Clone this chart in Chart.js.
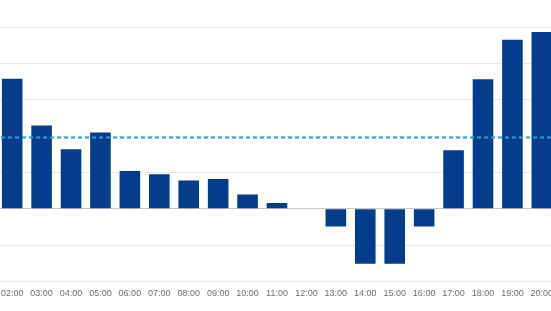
<!DOCTYPE html>
<html lang="en">
  <head>
    <meta charset="UTF-8" />
    <script src="https://cdn.jsdelivr.net/npm/chart.js"></script>
    <title>Hourly balance</title>
    <style>
      * {
        padding: 0;
        margin: 0;
        box-sizing: border-box;
      }
      body {
        width: 551px;
        height: 311px;
        overflow: hidden;
        background: #fff;
        position: relative;
      }
      .wrap {
        position: absolute;
        left: -6px;
        top: 0;
        width: 566px;
        height: 311px;
      }
    </style>
  </head>
  <body>
    <div class="wrap">
      <canvas id="myChart"></canvas>
    </div>
    <script>
      const hours = [
        '02:00', '03:00', '04:00', '05:00', '06:00', '07:00', '08:00', '09:00', '10:00', '11:00',
        '12:00', '13:00', '14:00', '15:00', '16:00', '17:00', '18:00', '19:00', '20:00',
      ];
      const values = [35.8, 22.9, 16.4, 21.0, 10.4, 9.5, 7.8, 8.2, 3.9, 1.6, 0, -4.9, -15.1, -15.1, -4.9, 16.1, 35.6, 46.5, 48.6];
      const average = 19.6;

      // dashed average line across the whole plot
      const avgLine = {
        id: 'avgLine',
        afterDatasetsDraw(chart) {
          const { ctx, chartArea, scales } = chart;
          const y = scales.y.getPixelForValue(average);
          ctx.save();
          ctx.strokeStyle = '#2a9fd8';
          ctx.lineWidth = 2;
          ctx.setLineDash([4, 3]);
          ctx.beginPath();
          ctx.moveTo(0, y);
          ctx.lineTo(chart.width, y);
          ctx.stroke();
          ctx.restore();
        },
      };

      new Chart(document.getElementById('myChart'), {
        type: 'bar',
        data: {
          labels: hours,
          datasets: [
            {
              data: values,
              backgroundColor: '#053d8c',
              borderWidth: 0,
              categoryPercentage: 1,
              barPercentage: 0.7,
            },
          ],
        },
        options: {
          responsive: true,
          maintainAspectRatio: false,
          animation: false,
          layout: { padding: { top: 27, bottom: 0, left: 0, right: 0 } },
          plugins: { legend: { display: false }, tooltip: { enabled: false } },
          scales: {
            x: {
              grid: { display: false, drawTicks: false },
              border: { display: false },
              afterFit: (s) => { s.height = 29.5; },
              ticks: {
                color: '#6e6e6e',
                padding: 7,
                maxRotation: 0,
                autoSkip: false,
                font: { family: 'Liberation Sans', size: 9 },
              },
            },
            y: {
              min: -20,
              max: 50,
              afterFit: (s) => { s.width = 0; },
              ticks: { display: false, stepSize: 10 },
              border: { display: false },
              grid: {
                drawTicks: false,
                color: (c) => (c.tick && c.tick.value === 0 ? '#c9c9c9' : '#e8e8e8'),
              },
            },
          },
        },
        plugins: [avgLine],
      });
    </script>
  </body>
</html>
